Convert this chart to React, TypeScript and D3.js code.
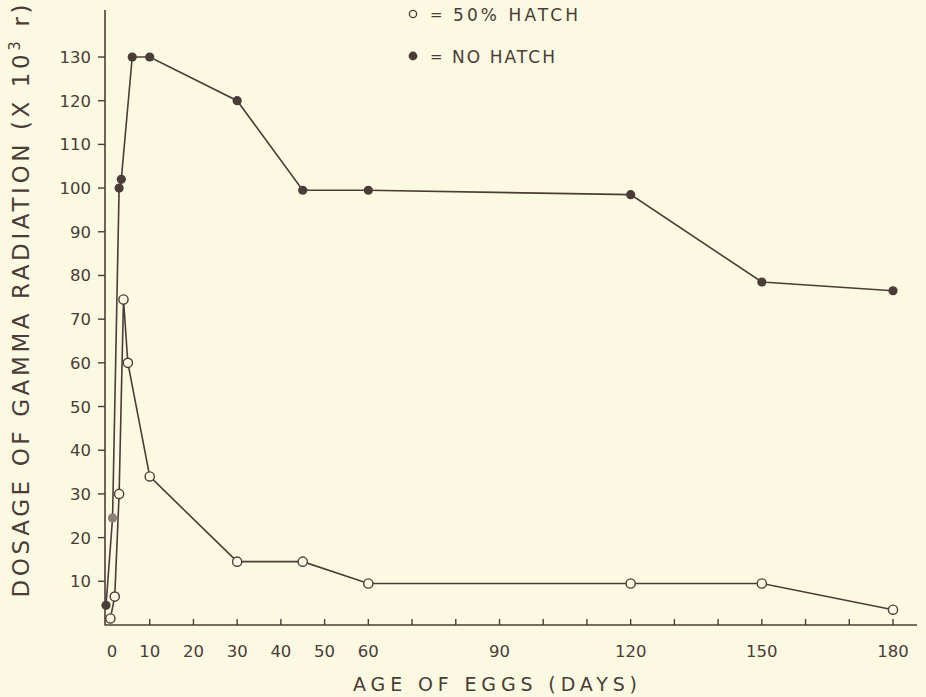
import React from "react";
import * as d3 from "d3";

// ---- data (days, dosage x10^3 r) ----
const openDays = [1, 2, 3, 4, 5, 10, 30, 45, 60, 120, 150, 180];
const openDose = [1.5, 6.5, 30, 74.5, 60, 34, 14.5, 14.5, 9.5, 9.5, 9.5, 3.5];

const filledDays = [0, 1.5, 3, 3.5, 6, 10, 30, 45, 60, 120, 150, 180];
const filledDose = [4.5, 24.5, 100, 102, 130, 130, 120, 99.5, 99.5, 98.5, 78.5, 76.5];
const fadedFilledIndex = 1; // half-tone point in the original

const xTickValues = d3.range(10, 181, 10);
const xTickLabels = [0, 10, 20, 30, 40, 50, 60, 90, 120, 150, 180];
const yTickValues = [10, 20, 30, 40, 50, 60, 70, 80, 90, 100, 110, 120, 130];

const legendLabels = ["50% HATCH", "NO HATCH"];
const xTitle = "AGE OF EGGS (DAYS)";
const yTitle = "DOSAGE OF GAMMA RADIATION (X 10";

const W = 926;
const H = 697;
const BG = "#fcf9e3";
const INK = "#4a3c37";
const FONT = "'DejaVu Sans', sans-serif";

export default function App() {
  const x = d3.scaleLinear().domain([0, 180]).range([106, 893]);
  const y = d3.scaleLinear().domain([0, 130]).range([625, 57]);

  const openPts: [number, number][] = openDays.map((d, i) => [d, openDose[i]]);
  const filledPts: [number, number][] = filledDays.map((d, i) => [d, filledDose[i]]);
  const line = d3
    .line<[number, number]>()
    .x((p) => x(p[0]))
    .y((p) => y(p[1]));

  return (
    <svg
      width={W}
      height={H}
      style={{ position: "absolute", left: 0, top: 0, background: BG }}
      fontFamily={FONT}
    >
      <rect x={0} y={0} width={W} height={H} fill={BG} />
      {/* axes */}
      <line x1={105} y1={10} x2={105} y2={625.5} stroke={INK} strokeWidth={1.6} />
      <line x1={105} y1={625} x2={917} y2={625} stroke={INK} strokeWidth={1.6} />
      {xTickValues.map((v) => (
        <line key={"xt" + v} x1={x(v)} x2={x(v)} y1={625} y2={619} stroke={INK} strokeWidth={1.4} />
      ))}
      {yTickValues.map((v) => (
        <line key={"yt" + v} x1={98} x2={105} y1={y(v)} y2={y(v)} stroke={INK} strokeWidth={1.4} />
      ))}
      {/* tick labels */}
      {xTickLabels.map((v) => (
        <text
          key={"xl" + v}
          x={v === 0 ? x(v) + 6 : x(v)}
          y={657}
          textAnchor="middle"
          fontSize={16.5}
          fill={INK}
        >
          {String(v)}
        </text>
      ))}
      {yTickValues.map((v) => (
        <text key={"yl" + v} x={91} y={y(v) + 6} textAnchor="end" fontSize={16.5} fill={INK}>
          {String(v)}
        </text>
      ))}
      {/* axis titles */}
      <text
        x={495}
        y={691}
        textAnchor="middle"
        fontSize={19}
        fill={INK}
        textLength={284}
        lengthAdjust="spacing"
      >
        {xTitle}
      </text>
      <text
        transform="translate(29,301) rotate(-90)"
        textAnchor="middle"
        fontSize={23}
        fill={INK}
        textLength={593}
        lengthAdjust="spacing"
      >
        <tspan>{yTitle}</tspan>
        <tspan dy={-9} fontSize={15}>3</tspan>
        <tspan dy={9}> r)</tspan>
      </text>
      {/* lines */}
      <path d={line(filledPts) || ""} fill="none" stroke={INK} strokeWidth={1.6} />
      <path d={line(openPts) || ""} fill="none" stroke={INK} strokeWidth={1.6} />
      {filledPts.map((p, i) => (
        <circle
          key={"f" + i}
          cx={x(p[0])}
          cy={y(p[1])}
          r={4.6}
          fill={i === fadedFilledIndex ? "#8d817a" : INK}
        />
      ))}
      {openPts.map((p, i) => (
        <circle
          key={"o" + i}
          cx={x(p[0])}
          cy={y(p[1])}
          r={4.6}
          fill={BG}
          stroke={INK}
          strokeWidth={1.4}
        />
      ))}
      {/* legend */}
      <circle cx={413} cy={14} r={3.6} fill={BG} stroke={INK} strokeWidth={1.3} />
      <text x={430} y={20} fontSize={15} fill={INK}>=</text>
      <text x={453} y={21} fontSize={17} fill={INK} textLength={125} lengthAdjust="spacing">
        {legendLabels[0]}
      </text>
      <circle cx={413} cy={56} r={4.4} fill={INK} />
      <text x={430} y={62} fontSize={15} fill={INK}>=</text>
      <text x={452} y={63} fontSize={17} fill={INK} textLength={103} lengthAdjust="spacing">
        {legendLabels[1]}
      </text>
    </svg>
  );
}
